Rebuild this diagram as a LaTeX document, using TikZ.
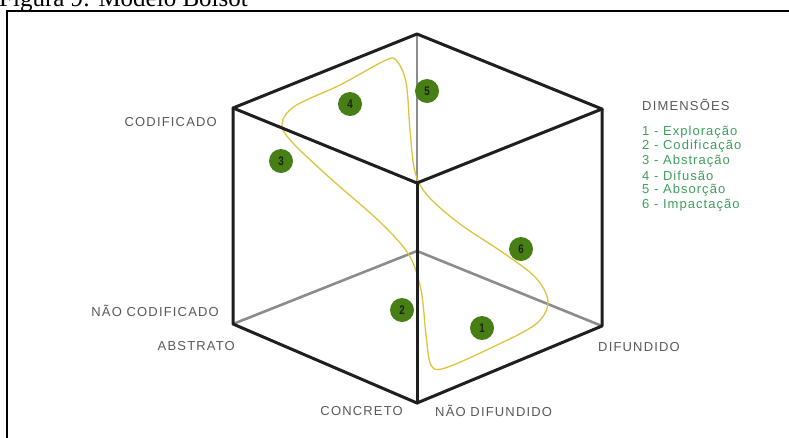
\documentclass[tikz,border=0pt]{standalone}
\usepackage{fontspec}
\usepackage{tikz}
\usetikzlibrary{positioning}
\newfontfamily\rotulo[LetterSpace=9]{Liberation Sans}
\newfontfamily\legenda[LetterSpace=8]{Liberation Sans}
\newfontfamily\numero[FakeStretch=0.78]{Liberation Sans}
\newfontfamily\titulo{Liberation Serif}
\definecolor{cinzatxt}{RGB}{88,88,88}
\definecolor{verdeleg}{RGB}{62,158,92}

\begin{document}
\begin{tikzpicture}[x=1pt,y=-1pt,
  lbl/.style={text=cinzatxt,font=\rotulo\fontsize{13}{15}\selectfont,inner sep=0pt},
  dim/.style={text=verdeleg,font=\legenda\fontsize{13}{15}\selectfont,inner sep=0pt,anchor=west},
  bola/.style={circle,fill=cB,minimum size=24pt,inner sep=0pt,text=cN,font=\numero\bfseries\fontsize{12.5}{12.5}\selectfont},
  aresta/.style={line width=3pt,black!88,line cap=round,line join=round},
  oculta/.style={line width=2.6pt,black!45}]
\definecolor{cB}{RGB}{72,126,22}\definecolor{cN}{RGB}{28,36,16}\definecolor{cY}{RGB}{222,196,62}
\useasboundingbox (0,0) rectangle (789,437);
\clip (0,0) rectangle (789,437);
% legenda cortada e moldura
\node[anchor=base west,inner sep=0pt,font=\titulo\fontsize{25}{27}\selectfont] (tit) at (-1,6) {Figura 9: Modelo Boisot};
\draw[line width=2pt] (7,460) -- (7,11) -- (800,11);
% vertices do cubo
\coordinate (T) at (417,34);
\coordinate (LT) at (233,108);
\coordinate (RT) at (602,109);
\coordinate (C) at (417,183);
\coordinate (LB) at (233,324);
\coordinate (RB) at (602,326);
\coordinate (FB) at (417,403);
\coordinate (BB) at (417,251);
% arestas escondidas
\draw[oculta] (T)--(C);
\draw[oculta] (LB)--(BB)--(RB);
% ciclo
\draw[cY,line width=1.3pt] plot[smooth cycle,tension=0.55] coordinates {
  (396,60) (406,82) (410,130) (415,172) (428,196) (460,224) (505,254) (536,278)
  (548,302) (536,324) (495,346) (445,368) (431,365) (426,335) (421,290) (409,255)
  (380,222) (330,178) (292,142) (282,124) (295,106) (340,85) (384,61)};
% arestas visiveis
\draw[aresta] (LT)--(T)--(RT)--(C)--cycle;
\draw[aresta] (LT)--(LB)--(FB)--(RB)--(RT);
\draw[aresta] (C)--(FB);
% etapas
\node[bola] (e1) at (482,328) {1};
\node[bola] (e2) at (402,310) {2};
\node[bola] (e3) at (281,161) {3};
\node[bola] (e4) at (350,104) {4};
\node[bola] (e5) at (427,91) {5};
\node[bola] (e6) at (521,249) {6};
% eixos
\node[lbl,anchor=east] (cod) at (217,122) {CODIFICADO};
\node[lbl,anchor=east] (ncod) at (219,311) {NÃO CODIFICADO};
\node[lbl,anchor=east] (abs) at (235,346) {ABSTRATO};
\node[lbl,anchor=east] (con) at (403,411) {CONCRETO};
\node[lbl,anchor=west] (ndif) at (435,411) {NÃO DIFUNDIDO};
\node[lbl,anchor=west] (dif) at (598,347) {DIFUNDIDO};
% dimensoes
\node[lbl,anchor=west] (dims) at (642,105) {DIMENSÕES};
\node[dim] (d1) at (642,132) {1 - Exploração};
\node[dim] (d2) at (642,146.5) {2 - Codificação};
\node[dim] (d3) at (642,161) {3 - Abstração};
\node[dim] (d4) at (642,175.5) {4 - Difusão};
\node[dim] (d5) at (642,190) {5 - Absorção};
\node[dim] (d6) at (642,205) {6 - Impactação};
\end{tikzpicture}
\end{document}
